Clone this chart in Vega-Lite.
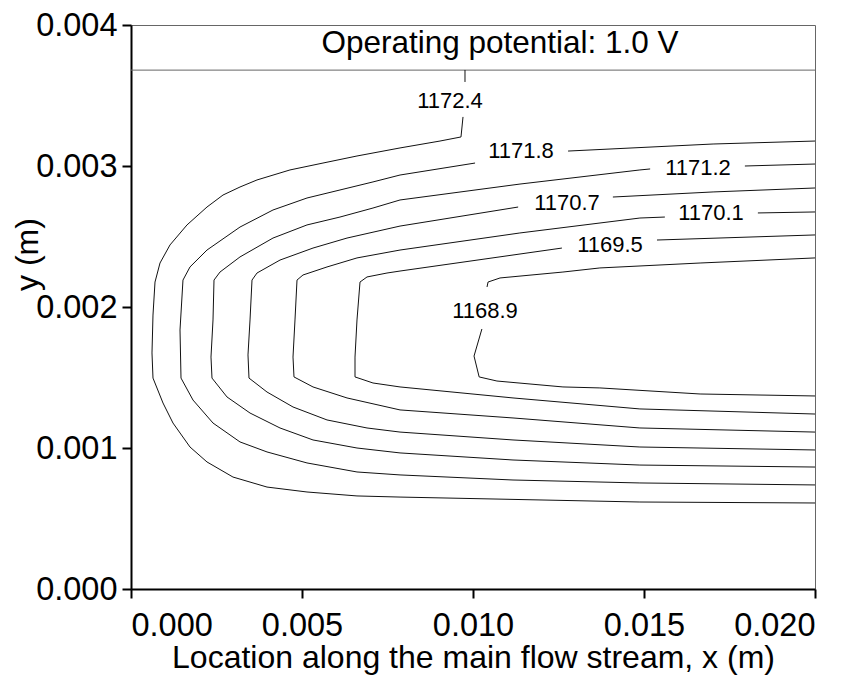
{
  "$schema": "https://vega.github.io/schema/vega-lite/v6.json",
  "autosize": {"type": "none"},
  "width": 684,
  "height": 564,
  "padding": {"left": 131, "top": 25, "right": 43, "bottom": 88},
  "background": "white",
  "config": {
    "font": "Liberation Sans",
    "view": {"stroke": "#666666", "strokeWidth": 1},
    "axis": {
      "grid": false,
      "domainColor": "black",
      "domainWidth": 2,
      "tickColor": "black",
      "tickWidth": 2,
      "tickSize": 9,
      "labelFont": "Liberation Sans",
      "labelFontSize": 32.5,
      "labelColor": "black",
      "titleFont": "Liberation Sans",
      "titleFontSize": 32,
      "titleFontWeight": "normal",
      "titleColor": "black"
    }
  },
  "datasets": {
    "contours": [
      {"seg": "A1", "i": 0, "x": 0.02, "y": 0.00061},
      {"seg": "A1", "i": 1, "x": 0.01488, "y": 0.000617},
      {"seg": "A1", "i": 2, "x": 0.007866, "y": 0.000652},
      {"seg": "A1", "i": 3, "x": 0.006608, "y": 0.00066},
      {"seg": "A1", "i": 4, "x": 0.005146, "y": 0.000688},
      {"seg": "A1", "i": 5, "x": 0.003977, "y": 0.000723},
      {"seg": "A1", "i": 6, "x": 0.002982, "y": 0.000794},
      {"seg": "A1", "i": 7, "x": 0.002222, "y": 0.000901},
      {"seg": "A1", "i": 8, "x": 0.001725, "y": 0.001007},
      {"seg": "A1", "i": 9, "x": 0.001228, "y": 0.001177},
      {"seg": "A1", "i": 10, "x": 0.000936, "y": 0.001319},
      {"seg": "A1", "i": 11, "x": 0.000643, "y": 0.001496},
      {"seg": "A1", "i": 12, "x": 0.000614, "y": 0.001674},
      {"seg": "A1", "i": 13, "x": 0.000643, "y": 0.001943},
      {"seg": "A1", "i": 14, "x": 0.000702, "y": 0.002177},
      {"seg": "A1", "i": 15, "x": 0.000848, "y": 0.002312},
      {"seg": "A1", "i": 16, "x": 0.00114, "y": 0.00244},
      {"seg": "A1", "i": 17, "x": 0.001637, "y": 0.002582},
      {"seg": "A1", "i": 18, "x": 0.002222, "y": 0.002709},
      {"seg": "A1", "i": 19, "x": 0.00269, "y": 0.002794},
      {"seg": "A1", "i": 20, "x": 0.003187, "y": 0.002851},
      {"seg": "A1", "i": 21, "x": 0.003684, "y": 0.002901},
      {"seg": "A1", "i": 22, "x": 0.004649, "y": 0.002972},
      {"seg": "A1", "i": 23, "x": 0.005614, "y": 0.003021},
      {"seg": "A1", "i": 24, "x": 0.006608, "y": 0.003071},
      {"seg": "A1", "i": 25, "x": 0.007866, "y": 0.003128},
      {"seg": "A1", "i": 26, "x": 0.009035, "y": 0.003177},
      {"seg": "A1", "i": 27, "x": 0.009649, "y": 0.003206},
      {"seg": "A1", "i": 28, "x": 0.009708, "y": 0.003348},
      {"seg": "A2", "i": 0, "x": 0.009766, "y": 0.003596},
      {"seg": "A2", "i": 1, "x": 0.009766, "y": 0.003681},

      {"seg": "B1", "i": 0, "x": 0.02, "y": 0.000738},
      {"seg": "B1", "i": 1, "x": 0.01488, "y": 0.000752},
      {"seg": "B1", "i": 2, "x": 0.01117, "y": 0.000773},
      {"seg": "B1", "i": 3, "x": 0.007866, "y": 0.000809},
      {"seg": "B1", "i": 4, "x": 0.006608, "y": 0.00083},
      {"seg": "B1", "i": 5, "x": 0.005146, "y": 0.000894},
      {"seg": "B1", "i": 6, "x": 0.003977, "y": 0.000972},
      {"seg": "B1", "i": 7, "x": 0.003187, "y": 0.001043},
      {"seg": "B1", "i": 8, "x": 0.002398, "y": 0.001177},
      {"seg": "B1", "i": 9, "x": 0.001813, "y": 0.00134},
      {"seg": "B1", "i": 10, "x": 0.001462, "y": 0.001496},
      {"seg": "B1", "i": 11, "x": 0.001433, "y": 0.001837},
      {"seg": "B1", "i": 12, "x": 0.00152, "y": 0.002191},
      {"seg": "B1", "i": 13, "x": 0.001725, "y": 0.002284},
      {"seg": "B1", "i": 14, "x": 0.002222, "y": 0.002404},
      {"seg": "B1", "i": 15, "x": 0.003187, "y": 0.002567},
      {"seg": "B1", "i": 16, "x": 0.004152, "y": 0.002688},
      {"seg": "B1", "i": 17, "x": 0.005146, "y": 0.002773},
      {"seg": "B1", "i": 18, "x": 0.006111, "y": 0.00283},
      {"seg": "B1", "i": 19, "x": 0.007076, "y": 0.002887},
      {"seg": "B1", "i": 20, "x": 0.007866, "y": 0.002936},
      {"seg": "B1", "i": 21, "x": 0.01006, "y": 0.003021},
      {"seg": "B2", "i": 0, "x": 0.01278, "y": 0.003106},
      {"seg": "B2", "i": 1, "x": 0.01702, "y": 0.003156},
      {"seg": "B2", "i": 2, "x": 0.02, "y": 0.003177},

      {"seg": "C1", "i": 0, "x": 0.02, "y": 0.000865},
      {"seg": "C1", "i": 1, "x": 0.01488, "y": 0.000879},
      {"seg": "C1", "i": 2, "x": 0.01117, "y": 0.000915},
      {"seg": "C1", "i": 3, "x": 0.007866, "y": 0.000965},
      {"seg": "C1", "i": 4, "x": 0.006608, "y": 0.001},
      {"seg": "C1", "i": 5, "x": 0.005322, "y": 0.001057},
      {"seg": "C1", "i": 6, "x": 0.004357, "y": 0.001142},
      {"seg": "C1", "i": 7, "x": 0.00348, "y": 0.001248},
      {"seg": "C1", "i": 8, "x": 0.002807, "y": 0.001362},
      {"seg": "C1", "i": 9, "x": 0.002368, "y": 0.001496},
      {"seg": "C1", "i": 10, "x": 0.002339, "y": 0.001645},
      {"seg": "C1", "i": 11, "x": 0.002398, "y": 0.001908},
      {"seg": "C1", "i": 12, "x": 0.002427, "y": 0.002191},
      {"seg": "C1", "i": 13, "x": 0.002602, "y": 0.002248},
      {"seg": "C1", "i": 14, "x": 0.003187, "y": 0.002355},
      {"seg": "C1", "i": 15, "x": 0.004152, "y": 0.002489},
      {"seg": "C1", "i": 16, "x": 0.005146, "y": 0.002582},
      {"seg": "C1", "i": 17, "x": 0.006111, "y": 0.002638},
      {"seg": "C1", "i": 18, "x": 0.007076, "y": 0.002702},
      {"seg": "C1", "i": 19, "x": 0.007866, "y": 0.002759},
      {"seg": "C1", "i": 20, "x": 0.011374, "y": 0.002872},
      {"seg": "C1", "i": 21, "x": 0.01488, "y": 0.002972},
      {"seg": "C1", "i": 22, "x": 0.01518, "y": 0.002979},
      {"seg": "C2", "i": 0, "x": 0.01795, "y": 0.003},
      {"seg": "C2", "i": 1, "x": 0.02, "y": 0.003014},

      {"seg": "D1", "i": 0, "x": 0.02, "y": 0.000986},
      {"seg": "D1", "i": 1, "x": 0.01488, "y": 0.001007},
      {"seg": "D1", "i": 2, "x": 0.01117, "y": 0.001057},
      {"seg": "D1", "i": 3, "x": 0.007866, "y": 0.001113},
      {"seg": "D1", "i": 4, "x": 0.006901, "y": 0.001142},
      {"seg": "D1", "i": 5, "x": 0.005731, "y": 0.001199},
      {"seg": "D1", "i": 6, "x": 0.004737, "y": 0.001291},
      {"seg": "D1", "i": 7, "x": 0.003977, "y": 0.001397},
      {"seg": "D1", "i": 8, "x": 0.00345, "y": 0.001496},
      {"seg": "D1", "i": 9, "x": 0.003421, "y": 0.00166},
      {"seg": "D1", "i": 10, "x": 0.00348, "y": 0.001908},
      {"seg": "D1", "i": 11, "x": 0.003538, "y": 0.002191},
      {"seg": "D1", "i": 12, "x": 0.003684, "y": 0.002241},
      {"seg": "D1", "i": 13, "x": 0.004357, "y": 0.002333},
      {"seg": "D1", "i": 14, "x": 0.005322, "y": 0.002418},
      {"seg": "D1", "i": 15, "x": 0.006316, "y": 0.002489},
      {"seg": "D1", "i": 16, "x": 0.007866, "y": 0.002574},
      {"seg": "D1", "i": 17, "x": 0.01132, "y": 0.002709},
      {"seg": "D2", "i": 0, "x": 0.01409, "y": 0.00278},
      {"seg": "D2", "i": 1, "x": 0.01702, "y": 0.002816},
      {"seg": "D2", "i": 2, "x": 0.02, "y": 0.002844},

      {"seg": "E1", "i": 0, "x": 0.02, "y": 0.001113},
      {"seg": "E1", "i": 1, "x": 0.01488, "y": 0.001142},
      {"seg": "E1", "i": 2, "x": 0.01117, "y": 0.001213},
      {"seg": "E1", "i": 3, "x": 0.007866, "y": 0.00127},
      {"seg": "E1", "i": 4, "x": 0.006316, "y": 0.001355},
      {"seg": "E1", "i": 5, "x": 0.005322, "y": 0.001433},
      {"seg": "E1", "i": 6, "x": 0.004766, "y": 0.001504},
      {"seg": "E1", "i": 7, "x": 0.004737, "y": 0.001645},
      {"seg": "E1", "i": 8, "x": 0.004795, "y": 0.001908},
      {"seg": "E1", "i": 9, "x": 0.004854, "y": 0.002191},
      {"seg": "E1", "i": 10, "x": 0.005029, "y": 0.002227},
      {"seg": "E1", "i": 11, "x": 0.005731, "y": 0.002284},
      {"seg": "E1", "i": 12, "x": 0.006608, "y": 0.002348},
      {"seg": "E1", "i": 13, "x": 0.007866, "y": 0.002404},
      {"seg": "E1", "i": 14, "x": 0.01137, "y": 0.002525},
      {"seg": "E1", "i": 15, "x": 0.01488, "y": 0.002631},
      {"seg": "E1", "i": 16, "x": 0.01561, "y": 0.002638},
      {"seg": "E2", "i": 0, "x": 0.01833, "y": 0.002667},
      {"seg": "E2", "i": 1, "x": 0.02, "y": 0.002674},

      {"seg": "F1", "i": 0, "x": 0.02, "y": 0.001241},
      {"seg": "F1", "i": 1, "x": 0.01488, "y": 0.001277},
      {"seg": "F1", "i": 2, "x": 0.01117, "y": 0.001355},
      {"seg": "F1", "i": 3, "x": 0.007866, "y": 0.001433},
      {"seg": "F1", "i": 4, "x": 0.007076, "y": 0.001461},
      {"seg": "F1", "i": 5, "x": 0.00655, "y": 0.001504},
      {"seg": "F1", "i": 6, "x": 0.00655, "y": 0.001645},
      {"seg": "F1", "i": 7, "x": 0.006608, "y": 0.001908},
      {"seg": "F1", "i": 8, "x": 0.006696, "y": 0.002177},
      {"seg": "F1", "i": 9, "x": 0.006901, "y": 0.002213},
      {"seg": "F1", "i": 10, "x": 0.007485, "y": 0.002241},
      {"seg": "F1", "i": 11, "x": 0.007866, "y": 0.002255},
      {"seg": "F1", "i": 12, "x": 0.0126, "y": 0.002418},
      {"seg": "F2", "i": 0, "x": 0.01538, "y": 0.002475},
      {"seg": "F2", "i": 1, "x": 0.02, "y": 0.002511},

      {"seg": "G1", "i": 0, "x": 0.02, "y": 0.001369},
      {"seg": "G1", "i": 1, "x": 0.01664, "y": 0.001383},
      {"seg": "G1", "i": 2, "x": 0.01371, "y": 0.001426},
      {"seg": "G1", "i": 3, "x": 0.01263, "y": 0.001433},
      {"seg": "G1", "i": 4, "x": 0.0107, "y": 0.001475},
      {"seg": "G1", "i": 5, "x": 0.01018, "y": 0.001504},
      {"seg": "G1", "i": 6, "x": 0.01003, "y": 0.001652},
      {"seg": "G1", "i": 7, "x": 0.01026, "y": 0.001844},
      {"seg": "G2", "i": 0, "x": 0.01041, "y": 0.002142},
      {"seg": "G2", "i": 1, "x": 0.01044, "y": 0.002177},
      {"seg": "G2", "i": 2, "x": 0.01079, "y": 0.002206},
      {"seg": "G2", "i": 3, "x": 0.01263, "y": 0.002248},
      {"seg": "G2", "i": 4, "x": 0.01371, "y": 0.002277},
      {"seg": "G2", "i": 5, "x": 0.01664, "y": 0.002312},
      {"seg": "G2", "i": 6, "x": 0.02, "y": 0.002348}
    ],
    "labels": [
      {"label": "1172.4", "x": 0.009328, "y": 0.003411},
      {"label": "1171.8", "x": 0.011404, "y": 0.003057},
      {"label": "1171.2", "x": 0.016579, "y": 0.002936},
      {"label": "1170.7", "x": 0.012749, "y": 0.002688},
      {"label": "1170.1", "x": 0.016959, "y": 0.002617},
      {"label": "1169.5", "x": 0.014006, "y": 0.00239},
      {"label": "1168.9", "x": 0.010351, "y": 0.001922}
    ],
    "header": [
      {"text": "Operating potential: 1.0 V", "x": 0.01079, "y": 0.003801, "band": 0.00368}
    ]
  },
  "layer": [
    {
      "data": {"name": "header"},
      "mark": {"type": "rule", "color": "#666666", "strokeWidth": 1},
      "encoding": {
        "y": {"field": "band", "type": "quantitative"}
      }
    },
    {
      "data": {"name": "contours"},
      "mark": {"type": "line", "color": "#111111", "strokeWidth": 1, "interpolate": "linear"},
      "encoding": {
        "x": {
          "field": "x", "type": "quantitative",
          "scale": {"domain": [0, 0.02], "nice": false, "zero": false},
          "axis": {
            "values": [0, 0.005, 0.01, 0.015, 0.02],
            "format": ".3f",
            "labelPadding": 11,
            "titlePadding": 1,
            "title": "Location along the main flow stream, x (m)"
          }
        },
        "y": {
          "field": "y", "type": "quantitative",
          "scale": {"domain": [0, 0.004], "nice": false, "zero": false},
          "axis": {
            "values": [0, 0.001, 0.002, 0.003, 0.004],
            "format": ".3f",
            "labelPadding": 5,
            "title": "y (m)",
            "titleX": -94,
            "titleY": 229,
            "titleBaseline": "alphabetic"
          }
        },
        "detail": {"field": "seg", "type": "nominal"},
        "order": {"field": "i", "type": "quantitative"}
      }
    },
    {
      "data": {"name": "labels"},
      "mark": {"type": "text", "fontSize": 22, "color": "black", "align": "center", "baseline": "alphabetic", "font": "Liberation Sans"},
      "encoding": {
        "x": {"field": "x", "type": "quantitative"},
        "y": {"field": "y", "type": "quantitative"},
        "text": {"field": "label", "type": "nominal"}
      }
    },
    {
      "data": {"name": "header"},
      "mark": {"type": "text", "fontSize": 31.5, "color": "black", "align": "center", "baseline": "alphabetic", "font": "Liberation Sans"},
      "encoding": {
        "x": {"field": "x", "type": "quantitative"},
        "y": {"field": "y", "type": "quantitative"},
        "text": {"field": "text", "type": "nominal"}
      }
    }
  ]
}
